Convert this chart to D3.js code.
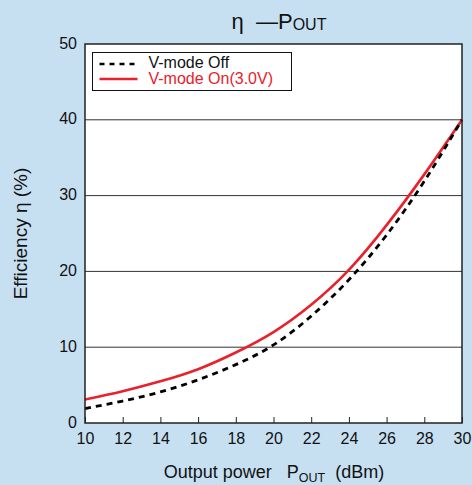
<!DOCTYPE html>
<html>
<head>
<meta charset="utf-8">
<script src="https://cdn.jsdelivr.net/npm/d3@7"></script>
<style>
  body { margin: 0; background: #c6e0f2; }
  svg { display: block; font-family: "Liberation Sans", Arial, sans-serif; }
</style>
</head>
<body>
<div id="chart"></div>
<script>
const pout = [10, 12, 14, 16, 18, 20, 22, 24, 26, 28, 30]
const effOff = [1.9, 2.9, 4.1, 5.7, 7.7, 10.3, 14.1, 18.9, 24.8, 31.9, 40]
const effOn = [3.1, 4.2, 5.5, 7.1, 9.3, 12.0, 15.6, 20.2, 26.1, 32.8, 40]
const xTicks = [10, 12, 14, 16, 18, 20, 22, 24, 26, 28, 30]
const yTicks = [0, 10, 20, 30, 40, 50]

const width = 472, height = 485
const margin = ({top: 44, right: 10, bottom: 62, left: 85})

const svg = d3.select("#chart").append("svg")
  .attr("width", width)
  .attr("height", height)

svg.append("rect")
  .attr("width", width).attr("height", height)
  .attr("fill", "#c6e0f2")

const x = d3.scaleLinear()
  .domain([10, 30])
  .range([margin.left, width - margin.right])

const y = d3.scaleLinear()
  .domain([0, 50])
  .range([height - margin.bottom, margin.top])

svg.append("rect")
  .attr("x", x(10)).attr("y", y(50))
  .attr("width", x(30) - x(10)).attr("height", y(0) - y(50))
  .attr("fill", "#fff")

// grid lines
svg.append("g")
  .selectAll("line")
  .data(yTicks.filter(d => d > 0 && d < 50))
  .join("line")
    .attr("x1", x(10)).attr("x2", x(30))
    .attr("y1", d => y(d)).attr("y2", d => y(d))
    .attr("stroke", "#333")
    .attr("stroke-width", 1)

const xAxis = g => g
  .attr("transform", `translate(0,${y(0)})`)
  .call(d3.axisBottom(x).tickValues(xTicks).tickSize(-6).tickPadding(10).tickSizeOuter(0))
  .call(g => g.select(".domain").remove())
  .call(g => g.selectAll(".tick line").attr("stroke", "#222"))
  .call(g => g.selectAll(".tick text").attr("font-size", 16).attr("fill", "#111"))

const yAxis = g => g
  .attr("transform", `translate(${x(10)},0)`)
  .call(d3.axisLeft(y).tickValues(yTicks).tickSize(0).tickPadding(8))
  .call(g => g.select(".domain").remove())
  .call(g => g.selectAll(".tick text").attr("font-size", 16).attr("fill", "#111").attr("dy", "0.25em"))

svg.append("g").call(xAxis).attr("font-family", null)
svg.append("g").call(yAxis).attr("font-family", null)

const line = d3.line()
  .curve(d3.curveNatural)
  .x((d, i) => x(pout[i]))
  .y(d => y(d))

svg.append("path")
  .datum(effOn)
  .attr("fill", "none")
  .attr("stroke", "#e8212b")
  .attr("stroke-width", 2.6)
  .attr("d", line)

svg.append("path")
  .datum(effOff)
  .attr("fill", "none")
  .attr("stroke", "#000")
  .attr("stroke-width", 2.8)
  .attr("stroke-dasharray", "6,5")
  .attr("d", line)

// frame
svg.append("rect")
  .attr("x", x(10)).attr("y", y(50))
  .attr("width", x(30) - x(10)).attr("height", y(0) - y(50))
  .attr("fill", "none")
  .attr("stroke", "#222")
  .attr("stroke-width", 1.5)

// legend
const legend = svg.append("g").attr("transform", "translate(92.5,52.5)")
legend.append("rect")
  .attr("width", 199).attr("height", 38)
  .attr("fill", "#fff").attr("stroke", "#111").attr("stroke-width", 1)

const legendItems = [
  {label: "V-mode Off", color: "#000", text: "#111", dash: "5,5"},
  {label: "V-mode On(3.0V)", color: "#e8212b", text: "#e8212b", dash: null}
]
legendItems.forEach((d, i) => {
  const yy = 11.5 + i * 15
  legend.append("line")
    .attr("x1", 7).attr("x2", 45)
    .attr("y1", yy).attr("y2", yy)
    .attr("stroke", d.color)
    .attr("stroke-width", 2.6)
    .attr("stroke-dasharray", d.dash)
  legend.append("text")
    .attr("x", 56).attr("y", 15.5 + i * 16)
    .attr("font-size", 16)
    .attr("fill", d.text)
    .text(d.label)
})

// title
const title = svg.append("text")
  .attr("x", 279).attr("y", 29)
  .attr("text-anchor", "middle")
  .attr("font-size", 22)
  .attr("fill", "#111")
  .attr("xml:space", "preserve")
title.append("tspan").text("η  —P")
title.append("tspan").attr("font-size", 16).attr("dy", 1).text("OUT")

// x axis title
const xTitle = svg.append("text")
  .attr("x", 274).attr("y", 478)
  .attr("text-anchor", "middle")
  .attr("font-size", 18)
  .attr("fill", "#111")
  .attr("xml:space", "preserve")
xTitle.append("tspan").text("Output power   P")
xTitle.append("tspan").attr("font-size", 12.5).attr("dy", 4).text("OUT")
xTitle.append("tspan").attr("dy", -4).text("  (dBm)")

// y axis title
svg.append("text")
  .attr("transform", `translate(27,${(y(0) + y(50)) / 2}) rotate(-90)`)
  .attr("text-anchor", "middle")
  .attr("font-size", 19)
  .attr("fill", "#111")
  .text("Efficiency η (%)")
</script>
</body>
</html>
